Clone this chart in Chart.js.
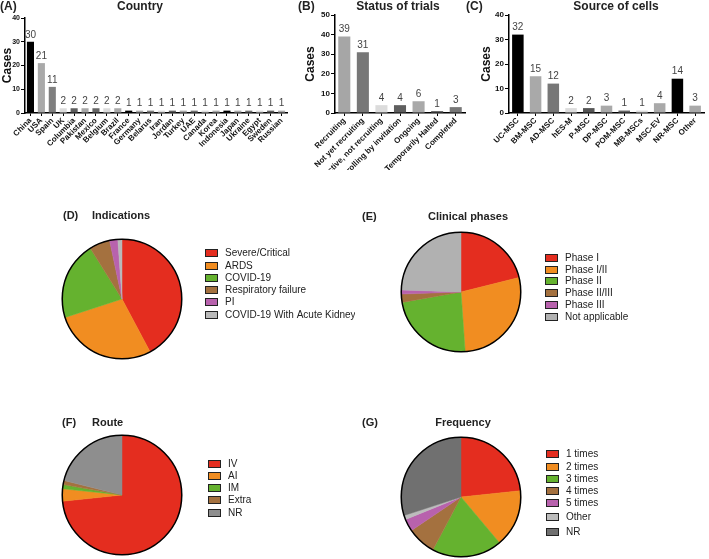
<!DOCTYPE html>
<html>
<head>
<meta charset="utf-8">
<script src="https://cdn.jsdelivr.net/npm/chart.js"></script>
<style>
  body { margin: 0; background: #fff; }
  #page { position: relative; width: 709px; height: 559px; overflow: hidden; font-family: "Liberation Sans", Arial, sans-serif; color: #222; }
  canvas { position: absolute; }
  .t { position: absolute; font-weight: bold; font-size: 12px; line-height: 12px; white-space: nowrap; }
  .c { transform: translateX(-50%); }
</style>
</head>
<body>
<div id="page">
  <canvas id="country" width="300" height="170" style="left:0;top:0"></canvas>
  <canvas id="status" width="170" height="170" style="left:300px;top:0"></canvas>
  <canvas id="cells" width="239" height="170" style="left:470px;top:0"></canvas>
  <canvas id="indic" width="355" height="165" style="left:0;top:200px"></canvas>
  <canvas id="phase" width="354" height="165" style="left:355px;top:200px"></canvas>
  <canvas id="route" width="355" height="194" style="left:0;top:365px"></canvas>
  <canvas id="freq" width="354" height="194" style="left:355px;top:365px"></canvas>

  <div class="t" style="left:0;top:0">(A)</div>
  <div class="t c" style="left:140px;top:0">Country</div>
  <div class="t" style="left:298px;top:0">(B)</div>
  <div class="t c" style="left:398px;top:0">Status of trials</div>
  <div class="t" style="left:466px;top:0">(C)</div>
  <div class="t c" style="left:616px;top:0">Source of cells</div>
  <div class="t" style="left:63px;top:209px;font-size:11px">(D)</div>
  <div class="t" style="left:92px;top:209px;font-size:11px">Indications</div>
  <div class="t" style="left:362px;top:210px;font-size:11px">(E)</div>
  <div class="t c" style="left:468px;top:210px;font-size:11px">Clinical phases</div>
  <div class="t" style="left:62px;top:416px;font-size:11px">(F)</div>
  <div class="t" style="left:92px;top:416px;font-size:11px">Route</div>
  <div class="t" style="left:362px;top:416px;font-size:11px">(G)</div>
  <div class="t c" style="left:463px;top:416px;font-size:11px">Frequency</div>
</div>
<script>
    // 数据
    var countryLabels = ['China', 'USA', 'Spain', 'UK', 'Columbia', 'Pakistan', 'Mexico', 'Belgium', 'Brazil', 'France',
        'Germany', 'Belarus', 'Iran', 'Jordan', 'Turkey', 'UAE', 'Canada', 'Korea', 'Indonesia', 'Japan',
        'Ukraine', 'Egypt', 'Sweden', 'Russian'];
    var countryCases = [30, 21, 11, 2, 2, 2, 2, 2, 2, 1, 1, 1, 1, 1, 1, 1, 1, 1, 1, 1, 1, 1, 1, 1];
    var countryColors = ['#000', '#a9a9a9', '#7f7f7f', '#dcdcdc', '#5f5f5f', '#a9a9a9', '#666', '#dcdcdc', '#a9a9a9', '#000',
        '#a9a9a9', '#808080', '#dcdcdc', '#5f5f5f', '#a9a9a9', '#707070', '#dcdcdc', '#a9a9a9', '#000', '#a9a9a9',
        '#707070', '#dcdcdc', '#5f5f5f', '#a9a9a9'];

    var statusLabels = ['Recruiting', 'Not yet recruiting', 'Active, not recruiting', 'Enrolling by invitation',
        'Ongoing', 'Temporarily Halted', 'Completed'];
    var statusCases = [39, 31, 4, 4, 6, 1, 3];
    var statusColors = ['#a6a6a6', '#777', '#dcdcdc', '#5f5f5f', '#a9a9a9', '#666', '#777'];

    var cellLabels = ['UC-MSC', 'BM-MSC', 'AD-MSC', 'hES-M', 'P-MSC', 'DP-MSC', 'POM-MSC', 'MB-MSCs', 'MSC-EV', 'NR-MSC', 'Other'];
    var cellCases = [32, 15, 12, 2, 2, 3, 1, 1, 4, 14, 3];
    var cellColors = ['#000', '#a9a9a9', '#777', '#dcdcdc', '#555', '#a9a9a9', '#666', '#dcdcdc', '#a9a9a9', '#000', '#a9a9a9'];

    var countryMax = 40, statusMax = 50, cellMax = 40, tickStep = 10;

    var indicLabels = ['Severe/Critical', 'ARDS', 'COVID-19', 'Respiratory failure', 'PI', 'COVID-19 With Acute Kidney Injury'];
    var indicCounts = [38, 25, 19, 5, 2, 1];
    var phaseLabels = ['Phase I', 'Phase I/II', 'Phase II', 'Phase II/III', 'Phase III', 'Not applicable'];
    var phaseCounts = [19, 25, 21, 2, 1, 22];
    var routeLabels = ['IV', 'AI', 'IM', 'Extra', 'NR'];
    var routeCounts = [66, 3, 1, 1, 19];
    var freqLabels = ['1 times', '2 times', '3 times', '4 times', '5 times', 'Other', 'NR'];
    var freqCounts = [21, 14, 17, 7, 3, 1, 27];

    var RED = '#e42d1f', ORANGE = '#f18d21', GREEN = '#65b22f', BROWN = '#a4713f', PURPLE = '#b862ad';

    var FONT = '"Liberation Sans", Arial, sans-serif';
    Chart.defaults.font.family = FONT;
    Chart.defaults.color = '#111';

    // 柱子上的数字
    var valueLabels = {
        id: 'valueLabels',
        afterDatasetsDraw: function(chart) {
            var ctx = chart.ctx;
            var ds = chart.data.datasets[0];
            ctx.save();
            ctx.font = '10px ' + FONT;
            ctx.fillStyle = '#444';
            ctx.textAlign = 'center';
            ctx.textBaseline = 'bottom';
            chart.getDatasetMeta(0).data.forEach(function(bar, i) {
                ctx.fillText(ds.data[i], bar.x, bar.y - 2);
            });
            ctx.restore();
        }
    };

    function barChart(id, labels, values, colors, max, box) {
        var ctx = document.getElementById(id).getContext('2d');
        return new Chart(ctx, {
            type: 'bar',
            data: {
                labels: labels,
                datasets: [{ data: values, backgroundColor: colors, borderWidth: 0, categoryPercentage: 1, barPercentage: 0.65 }]
            },
            options: {
                responsive: false,
                animation: false,
                layout: { padding: { left: 0, top: box.top, right: box.right, bottom: 0 } },
                plugins: { legend: { display: false }, tooltip: { enabled: false } },
                scales: {
                    x: {
                        offset: true,
                        grid: { display: true, drawOnChartArea: false, drawTicks: true, tickLength: 3, color: '#000', offset: false },
                        border: { display: true, color: '#000', width: 1.5 },
                        ticks: { autoSkip: false, minRotation: 45, maxRotation: 45, padding: 0, color: '#111',
                            font: { size: 8, weight: 'bold' } },
                        afterFit: function(s) { s.height = box.xh; }
                    },
                    y: {
                        min: 0, max: max,
                        grid: { display: true, drawOnChartArea: false, drawTicks: true, tickLength: 4, color: '#000' },
                        border: { display: true, color: '#000', width: 1.5 },
                        ticks: { stepSize: tickStep, padding: 1, color: '#111', font: { size: box.tf, weight: 'bold' } },
                        title: { display: true, text: 'Cases', color: '#111', font: { size: 12, weight: 'bold' },
                            padding: { top: box.tp, bottom: 0 } },
                        afterFit: function(s) { s.width = box.yw; }
                    }
                }
            },
            plugins: [valueLabels]
        });
    }

    barChart('country', countryLabels, countryCases, countryColors, countryMax, { top: 18, right: 13, xh: 57, yw: 25, tp: 0, tf: 7 });
    barChart('status', statusLabels, statusCases, statusColors, statusMax, { top: 15, right: 5, xh: 57, yw: 35, tp: 3, tf: 8 });
    barChart('cells', cellLabels, cellCases, cellColors, cellMax, { top: 15, right: 5, xh: 57, yw: 39, tp: 9, tf: 8 });

    // 饼图外框和图例
    var pieExtras = {
        id: 'pieExtras',
        afterDatasetsDraw: function(chart, args, opts) {
            var ctx = chart.ctx;
            var arc = chart.getDatasetMeta(0).data[0];
            var ds = chart.data.datasets[0];
            ctx.save();
            ctx.beginPath();
            ctx.arc(arc.x, arc.y, arc.outerRadius, 0, Math.PI * 2);
            ctx.lineWidth = 1.5;
            ctx.strokeStyle = '#000';
            ctx.stroke();
            ctx.font = '10px ' + FONT;
            ctx.textBaseline = 'middle';
            ctx.lineWidth = 1;
            chart.data.labels.forEach(function(lab, i) {
                var y = opts.rows[i];
                ctx.fillStyle = ds.backgroundColor[i];
                ctx.fillRect(opts.x, y - 4, 13, 8);
                ctx.strokeStyle = '#222';
                ctx.strokeRect(opts.x + 0.5, y - 3.5, 12, 7);
                ctx.fillStyle = '#222';
                ctx.fillText(lab, opts.x + 20, y + 0.5);
            });
            ctx.restore();
        }
    };

    function pieChart(id, labels, values, colors, pad, legend) {
        var ctx = document.getElementById(id).getContext('2d');
        return new Chart(ctx, {
            type: 'pie',
            data: { labels: labels, datasets: [{ data: values, backgroundColor: colors, borderColor: colors, borderWidth: 0.5 }] },
            options: {
                responsive: false,
                animation: false,
                layout: { padding: pad },
                plugins: { legend: { display: false }, tooltip: { enabled: false }, pieExtras: legend }
            },
            plugins: [pieExtras]
        });
    }

    pieChart('indic', indicLabels, indicCounts, [RED, ORANGE, GREEN, BROWN, PURPLE, '#b9b9b9'],
        { left: 62, top: 39, right: 173, bottom: 6 }, { x: 205, rows: [53, 66, 78, 90, 102, 115] });
    pieChart('phase', phaseLabels, phaseCounts, [RED, ORANGE, GREEN, BROWN, PURPLE, '#b1b1b1'],
        { left: 46, top: 32, right: 188, bottom: 13 }, { x: 190, rows: [58, 70, 81, 93, 105, 117] });
    pieChart('route', routeLabels, routeCounts, [RED, ORANGE, GREEN, BROWN, '#8e8e8e'],
        { left: 62, top: 70, right: 173, bottom: 4 }, { x: 208, rows: [99, 111, 123, 135, 148] });
    pieChart('freq', freqLabels, freqCounts, [RED, ORANGE, GREEN, BROWN, PURPLE, '#bcbcbc', '#707070'],
        { left: 46, top: 72, right: 188, bottom: 2 }, { x: 191, rows: [89, 102, 114, 126, 138, 152, 167] });
</script>
</body>
</html>
